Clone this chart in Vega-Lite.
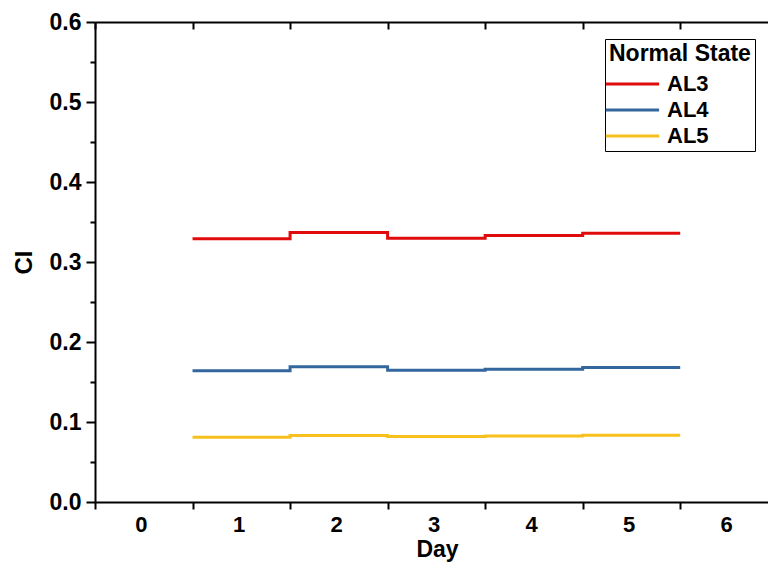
{
  "$schema": "https://vega.github.io/schema/vega-lite/v6.json",
  "width": 673,
  "height": 480,
  "padding": {"left": 95, "top": 22, "right": 0, "bottom": 63},
  "autosize": {"type": "none"},
  "background": "white",
  "config": {
    "view": {"stroke": null},
    "font": "Liberation Sans",
    "axis": {
      "domainColor": "black", "domainWidth": 2, "tickColor": "black", "tickWidth": 2,
      "labelColor": "black", "titleColor": "black", "labelFontWeight": "bold", "titleFontWeight": "bold",
      "grid": false
    }
  },
  "data": {
    "values": [
      {"series": "AL3", "day": 0.5, "CI": 0.329},
      {"series": "AL3", "day": 1.5, "CI": 0.337},
      {"series": "AL3", "day": 2.5, "CI": 0.3296},
      {"series": "AL3", "day": 3.5, "CI": 0.333},
      {"series": "AL3", "day": 4.5, "CI": 0.336},
      {"series": "AL3", "day": 5.5, "CI": 0.336},
      {"series": "AL4", "day": 0.5, "CI": 0.164},
      {"series": "AL4", "day": 1.5, "CI": 0.169},
      {"series": "AL4", "day": 2.5, "CI": 0.1646},
      {"series": "AL4", "day": 3.5, "CI": 0.166},
      {"series": "AL4", "day": 4.5, "CI": 0.168},
      {"series": "AL4", "day": 5.5, "CI": 0.168},
      {"series": "AL5", "day": 0.5, "CI": 0.081},
      {"series": "AL5", "day": 1.5, "CI": 0.083},
      {"series": "AL5", "day": 2.5, "CI": 0.082},
      {"series": "AL5", "day": 3.5, "CI": 0.0825},
      {"series": "AL5", "day": 4.5, "CI": 0.0833},
      {"series": "AL5", "day": 5.5, "CI": 0.0833}
    ]
  },
  "layer": [
    {
      "mark": {"type": "line", "interpolate": "step-after", "strokeWidth": 3},
      "encoding": {
        "x": {
          "field": "day", "type": "quantitative",
          "scale": {"domain": [-0.5, 6.4], "nice": false, "zero": false},
          "axis": {
            "orient": "bottom", "title": "Day", "titleFontSize": 23, "titlePadding": 3, "titleX": 342,
            "values": [0, 1, 2, 3, 4, 5, 6], "tickOffset": -48.77, "labelOffset": 46,
            "tickSize": 7, "labelFontSize": 22, "labelPadding": 5, "format": "d"
          }
        },
        "y": {
          "field": "CI", "type": "quantitative",
          "scale": {"domain": [0, 0.6], "nice": false},
          "axis": {
            "title": "CI", "titleFontSize": 24, "titlePadding": 13,
            "values": [0, 0.05, 0.1, 0.15, 0.2, 0.25, 0.3, 0.35, 0.4, 0.45, 0.5, 0.55, 0.6],
            "labelExpr": "abs(datum.value*10 - round(datum.value*10)) < 0.001 ? format(datum.value, '.1f') : ''",
            "tickSize": {"condition": {"test": "abs(datum.value*10 - round(datum.value*10)) > 0.001", "value": 5}, "value": 9},
            "labelFontSize": 23, "labelPadding": 5
          }
        },
        "color": {
          "field": "series", "type": "nominal",
          "scale": {"domain": ["AL3", "AL4", "AL5"], "range": ["#e00b0b", "#33679e", "#f7c01c"]},
          "legend": {
            "orient": "none", "legendX": 510, "legendY": 17,
            "title": "Normal State", "titleFontSize": 23, "titleFontWeight": "bold", "titleColor": "black",
            "labelFontSize": 22, "labelFontWeight": "bold", "labelColor": "black",
            "symbolType": "M-1.35,0H2.6", "symbolSize": 729, "symbolStrokeWidth": 3,
            "strokeColor": "black", "padding": 4, "rowPadding": 0, "titlePadding": 3, "labelOffset": 28
          }
        }
      }
    },
    {
      "mark": {"type": "line", "opacity": 0},
      "encoding": {
        "x": {
          "field": "day", "type": "quantitative",
          "axis": {
            "orient": "top", "title": null, "labels": false,
            "values": [0, 1, 2, 3, 4, 5, 6], "tickOffset": -48.77, "tickSize": -7
          }
        },
        "y": {"field": "CI", "type": "quantitative", "axis": null}
      }
    }
  ],
  "resolve": {"axis": {"x": "independent", "y": "independent"}}
}
